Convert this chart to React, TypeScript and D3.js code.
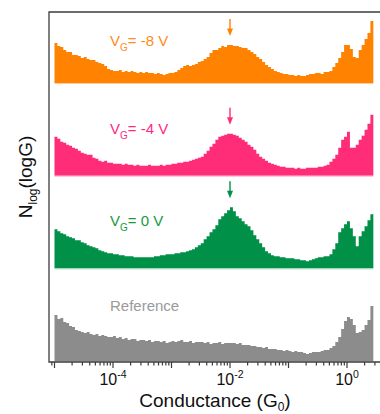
import React, { useEffect, useRef } from 'react'
import * as d3 from 'd3'

// log10(G/G0) bins: start and width (decades)
const binStart = -5.0
const binWidth = 0.05

const countsMinus8 = [
  40, 37, 36, 33, 31, 31, 28, 28, 27, 25, 26, 24, 23, 23, 21, 20, 19, 17, 14, 13,
  12, 12, 13, 11, 12, 11, 12, 11, 10, 11, 10, 11, 10, 10, 9, 10, 9, 8, 9, 10,
  10, 11, 13, 15, 17, 18, 17, 18, 19, 21, 22, 24, 26, 30, 33, 33, 35, 37, 36, 38,
  38, 37, 37, 36, 35, 35, 33, 31, 29, 26, 24, 21, 18, 16, 14, 12, 11, 10, 9, 9,
  8, 8, 7, 8, 7, 7, 8, 9, 9, 10, 10, 9, 11, 11, 12, 16, 20, 25, 31, 38,
  38, 34, 26, 25, 33, 38, 44, 50, 62,
]
const countsMinus4 = [
  39, 37, 34, 33, 31, 30, 28, 27, 25, 23, 22, 21, 21, 18, 17, 15, 14, 15, 13, 13,
  12, 12, 12, 11, 12, 11, 11, 10, 11, 10, 10, 10, 11, 10, 10, 10, 11, 10, 11, 11,
  12, 12, 13, 13, 14, 14, 15, 16, 17, 18, 19, 22, 25, 29, 32, 36, 39, 40, 41, 42,
  42, 41, 40, 38, 36, 34, 31, 29, 26, 22, 19, 17, 15, 13, 12, 11, 10, 9, 9, 8,
  8, 8, 7, 8, 7, 7, 8, 8, 8, 8, 9, 9, 10, 11, 14, 17, 21, 28, 36, 39,
  44, 28, 28, 31, 36, 40, 46, 52, 61,
]
const counts0 = [
  39, 37, 35, 34, 32, 31, 30, 28, 28, 26, 25, 23, 22, 21, 20, 18, 17, 16, 15, 15,
  14, 14, 13, 13, 12, 12, 12, 11, 11, 11, 11, 11, 11, 11, 12, 12, 13, 13, 14, 14,
  14, 15, 15, 16, 16, 17, 18, 19, 21, 23, 25, 29, 32, 36, 39, 43, 49, 52, 55, 58,
  61, 57, 52, 50, 47, 44, 42, 38, 33, 29, 25, 21, 17, 15, 13, 12, 12, 11, 11, 10,
  10, 10, 9, 9, 8, 8, 7, 8, 9, 10, 11, 11, 12, 12, 14, 19, 25, 36, 40, 44,
  47, 40, 32, 22, 32, 37, 42, 48, 54,
]
const countsReference = [
  46, 42, 43, 39, 38, 35, 34, 31, 30, 29, 28, 29, 27, 26, 27, 25, 26, 25, 24, 24,
  25, 23, 24, 22, 23, 21, 22, 22, 20, 21, 21, 20, 21, 19, 20, 20, 19, 20, 18, 19,
  20, 19, 20, 21, 19, 19, 20, 18, 19, 19, 19, 18, 19, 17, 18, 18, 19, 17, 18, 18,
  18, 18, 17, 18, 16, 16, 16, 15, 15, 14, 14, 13, 14, 12, 12, 12, 11, 11, 10, 11,
  10, 9, 10, 9, 9, 8, 7, 8, 9, 9, 9, 10, 11, 11, 13, 15, 19, 24, 32, 40,
  44, 42, 36, 28, 29, 31, 36, 41, 55,
]

const seriesCounts = [countsMinus8, countsMinus4, counts0, countsReference]
const gateVoltages = ['-8', '-4', '0', null]
const seriesColors = ['#ff8200', '#ff2c78', '#009048', '#8c8c8c']
const labelColors = ['#ff8c1a', '#ff2a82', '#179a3e', '#9a9a9a']
const arrowAt = [1e-2, 1e-2, 1e-2, null]
const tickLabelValues = [1e-4, 1e-2, 1e0]

const FONT = 'Arial, "Liberation Sans", sans-serif'

const App: React.FC = () => {
  const ref = useRef<SVGSVGElement | null>(null)

  useEffect(() => {
    if (!ref.current) return
    const width = 380
    const height = 414
    const left = 49
    const right = 380
    const top = 12
    const bottom = 362

    const svg = d3.select(ref.current)
    svg.selectAll('*').remove()
    svg.attr('width', width).attr('height', height)

    const x = d3.scaleLog()
      .domain([Math.pow(10, -5.094), Math.pow(10, 0.564)])
      .range([left, right])
    const baseline = d3.scaleLinear().domain([0, 3]).range([83, 361])
    const h = d3.scaleLinear().domain([0, 70]).range([0, 70])

    const labelOffset = [37, 42, 42, 50]

    seriesCounts.forEach((counts, k) => {
      const base = baseline(k)
      const pts = counts.map((v, i) => ({ g: Math.pow(10, binStart + i * binWidth), v }))
      pts.push({ g: Math.pow(10, binStart + counts.length * binWidth), v: counts[counts.length - 1] })

      const area = d3.area<{ g: number; v: number }>()
        .x(d => x(d.g))
        .y0(base)
        .y1(d => base - h(d.v))
        .curve(d3.curveStepAfter)

      svg.append('path')
        .attr('d', area(pts) as string)
        .attr('fill', seriesColors[k])

      // light edge under each histogram
      svg.append('line')
        .attr('x1', x(pts[0].g)).attr('x2', x(pts[pts.length - 1].g))
        .attr('y1', base + 0.5).attr('y2', base + 0.5)
        .attr('stroke', d3.interpolateRgb(seriesColors[k], '#ffffff')(0.6))
        .attr('stroke-width', 1)

      // label
      const t = svg.append('text')
        .attr('x', 110)
        .attr('y', base - labelOffset[k])
        .attr('fill', labelColors[k])
        .style('font-family', FONT)
        .style('font-size', '15px')
      const vg = gateVoltages[k]
      if (vg !== null) {
        t.append('tspan').text('V')
        t.append('tspan').attr('dy', 5).style('font-size', '10px').text('G')
        t.append('tspan').attr('dy', -5).text(`= ${vg} V`)
      } else {
        t.text('Reference')
      }

      // arrow marking the peak
      const a = arrowAt[k]
      if (a !== null) {
        const ax = x(a)
        const bin = Math.round((Math.log10(a) - binStart) / binWidth)
        const peak = d3.max(counts.slice(bin - 2, bin + 2)) as number
        const tip = base - h(peak) - 9
        svg.append('line')
          .attr('x1', ax).attr('x2', ax)
          .attr('y1', tip - 17).attr('y2', tip - 6)
          .attr('stroke', seriesColors[k])
          .attr('stroke-width', 1.4)
        svg.append('path')
          .attr('d', `M${ax - 3},${tip - 7.5}L${ax + 3},${tip - 7.5}L${ax},${tip}Z`)
          .attr('fill', seriesColors[k])
      }
    })

    // frame
    const axisColor = '#3c3c3c'
    svg.append('path')
      .attr('d', `M${right},${top}H${left}V${bottom}H${right}`)
      .attr('fill', 'none')
      .attr('stroke', axisColor)
      .attr('stroke-width', 1.3)

    // ticks
    const ticks = x.ticks()
    svg.selectAll('.tick')
      .data(ticks)
      .enter()
      .append('line')
      .attr('class', 'tick')
      .attr('x1', d => x(d)).attr('x2', d => x(d))
      .attr('y1', bottom)
      .attr('y2', d => Math.abs(Math.log10(d) - Math.round(Math.log10(d))) < 1e-6 ? bottom + 6 : bottom + 3.5)
      .attr('stroke', axisColor)
      .attr('stroke-width', 1.2)

    tickLabelValues.forEach(v => {
      const e = Math.round(Math.log10(v))
      const t = svg.append('text')
        .attr('x', x(v))
        .attr('y', 385)
        .attr('text-anchor', 'middle')
        .attr('fill', '#111')
        .style('font-family', FONT)
        .style('font-size', '16px')
      t.append('tspan').text('10')
      t.append('tspan').attr('dy', -7).style('font-size', '10.5px').text(String(e))
    })

    // x label
    const xl = svg.append('text')
      .attr('x', 215)
      .attr('y', 407)
      .attr('text-anchor', 'middle')
      .attr('fill', '#111')
      .style('font-family', FONT)
      .style('font-size', '19px')
    xl.append('tspan').text('Conductance (G')
    xl.append('tspan').attr('dy', 4).style('font-size', '12px').text('0')
    xl.append('tspan').attr('dy', -4).text(')')

    // y label
    const yl = svg.append('text')
      .attr('transform', 'translate(32,177) rotate(-90)')
      .attr('text-anchor', 'middle')
      .attr('fill', '#111')
      .style('font-family', FONT)
      .style('font-size', '19px')
    yl.append('tspan').text('N')
    yl.append('tspan').attr('dy', 5).style('font-size', '12px').text('log')
    yl.append('tspan').attr('dy', -5).text('(logG)')
  }, [])

  return <svg ref={ref} style={{ position: 'absolute', left: 0, top: 0, background: '#fff' }}></svg>
}

export default App
